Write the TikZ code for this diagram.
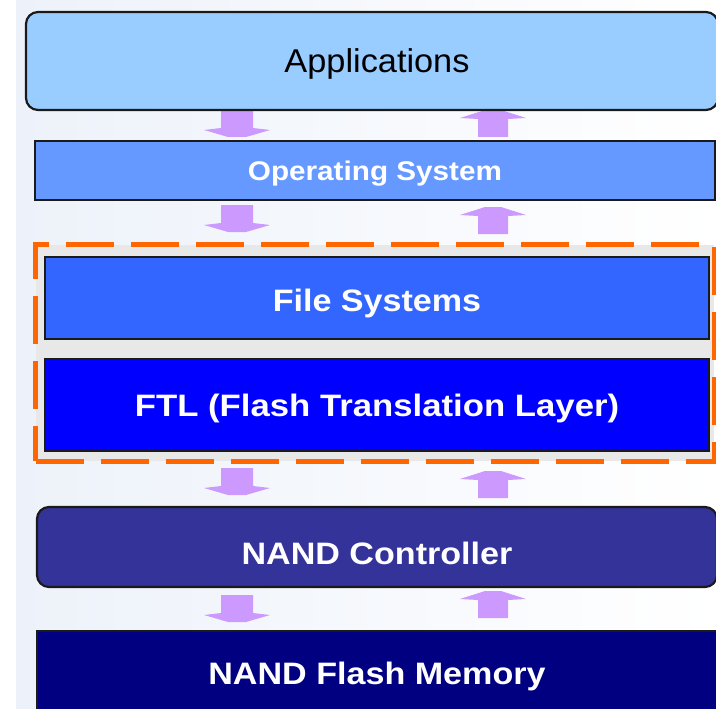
\documentclass[tikz,border=0pt]{standalone}
\usepackage{fontspec}
\usepackage{graphicx}
\setmainfont{Liberation Sans}
\definecolor{appfill}{HTML}{99CCFF}
\definecolor{osfill}{HTML}{6699FF}
\definecolor{fsfill}{HTML}{3366FF}
\definecolor{ftlfill}{HTML}{0000FF}
\definecolor{ncfill}{HTML}{333399}
\definecolor{nffill}{HTML}{000080}
\definecolor{arrfill}{HTML}{CC99FF}
\definecolor{dashorange}{HTML}{FF6600}
\definecolor{grpfill}{HTML}{E8E8E8}
\definecolor{bgtint}{HTML}{EDF2FA}
\definecolor{edgecol}{HTML}{1A1A1A}
\tikzset{
  layer/.style={draw=edgecol, line width=2.2pt, inner sep=0pt, text=white,
    font=\fontsize{31}{36}\selectfont\bfseries, align=center, text depth=0pt},
  grpbox/.style={draw=dashorange, line width=5pt, dash pattern=on 48pt off 17pt,
    fill=grpfill, inner sep=0pt},
  downarr/.pic={\fill[arrfill] (-16,0) -- (16,0) -- (16,18) -- (33,20) -- (9,27)
    -- (-9,27) -- (-33,20) -- (-16,18) -- cycle;},
  uparr/.pic={\fill[arrfill] (-8,0) -- (8,0) -- (33,8) -- (15,9) -- (15,27)
    -- (-15,27) -- (-15,9) -- (-33,8) -- cycle;}
}
\begin{document}
\begin{tikzpicture}[x=1pt,y=-1pt]
\clip (0,0) rectangle (716,709);
\fill[white] (0,0) rectangle (716,709);
\shade[left color=bgtint, right color=white] (16,0) rectangle (716,709);

% arrows
\pic at (237,110) {downarr};
\pic at (493,110) {uparr};
\pic at (237,205) {downarr};
\pic at (493,207) {uparr};
\pic at (237,468) {downarr};
\pic at (493,471) {uparr};
\pic at (237,595) {downarr};
\pic at (493,591) {uparr};

% layers
\node[layer, rounded corners=12pt, fill=appfill, text=black,
      font=\fontsize{33}{40}\selectfont, text height=24pt,
      minimum width=692pt, minimum height=98pt] (app) at (372,61)
      {\hspace*{10pt}\scalebox{1.04}[1]{Applications}};
\node[layer, fill=osfill, font=\fontsize{27}{32}\selectfont\bfseries,
      text height=19.3pt, minimum width=680pt, minimum height=59pt] (os) at (375,170.5)
      {\scalebox{1.1}[1]{Operating System}};
\node[grpbox, minimum width=678.5pt, minimum height=216.5pt] (grp) at (374.75,352.75) {};
\node[layer, fill=fsfill, text height=26pt, minimum width=664pt, minimum height=82pt]
      (fs) at (377,298) {\scalebox{1.1}[1]{File Systems}};
\node[layer, fill=ftlfill, text height=22.2pt, minimum width=664pt, minimum height=92pt]
      (ftl) at (377,405) {\scalebox{1.12}[1]{FTL (Flash Translation Layer)}};
\node[layer, rounded corners=12pt, fill=ncfill, text height=34pt,
      minimum width=680pt, minimum height=80pt] (nc) at (377,547)
      {\scalebox{1.1}[1]{NAND Controller}};
\node[layer, fill=nffill, text height=22.2pt, minimum width=680pt, minimum height=85pt]
      (nf) at (377,673.5) {\scalebox{1.1}[1]{NAND Flash Memory}};
\end{tikzpicture}
\end{document}
